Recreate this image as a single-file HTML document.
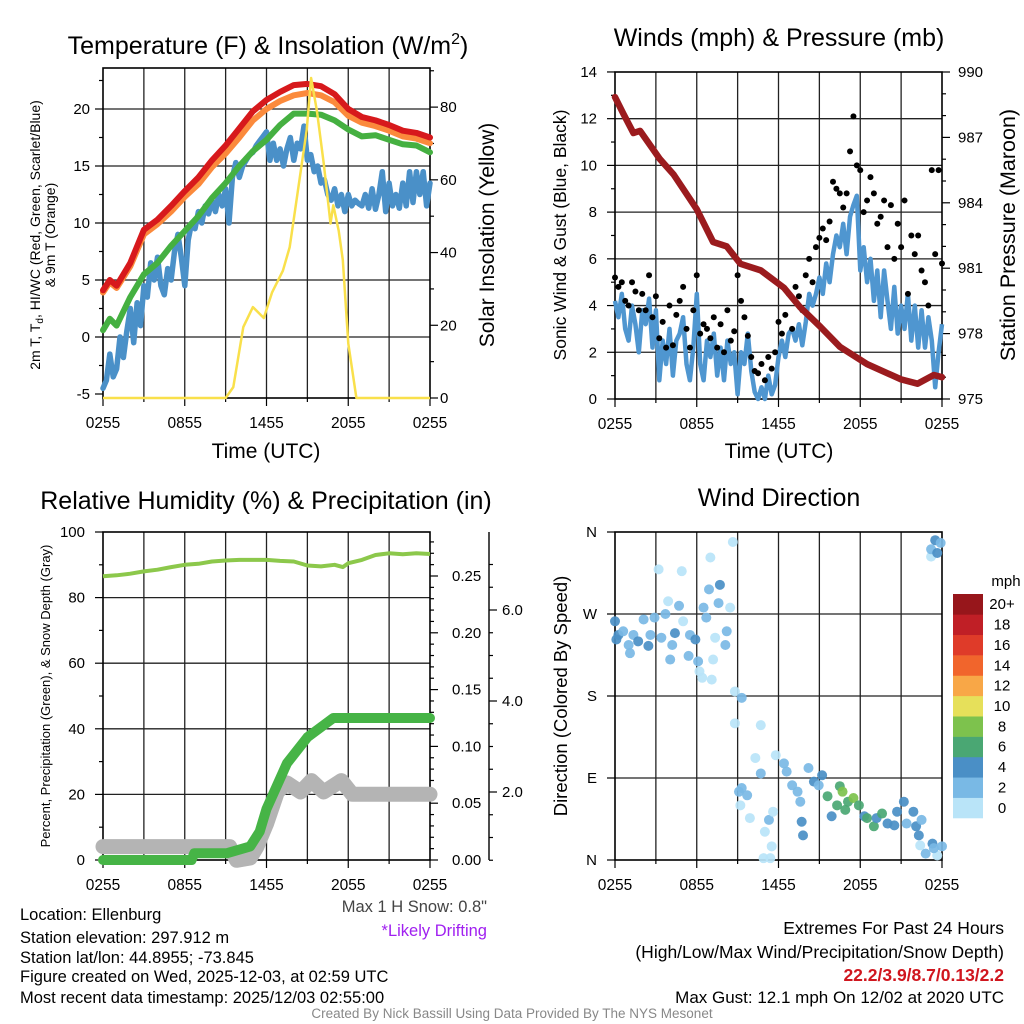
<!DOCTYPE html>
<html><head><meta charset="utf-8"><style>
html,body{margin:0;padding:0;background:#fff;}
svg{display:block;font-family:"Liberation Sans",Arial,sans-serif;}
</style></head><body>
<svg id="c" width="1024" height="1024" viewBox="0 0 1024 1024">
<rect width="1024" height="1024" fill="#fff"/>
<g id="g1"></g>
<g id="g2"></g>
<g id="g3"></g>
<g id="g4"></g>
<g id="txt" font-size="16.5" fill="#000">
<text x="268" y="54" font-size="25" text-anchor="middle">Temperature (F) &amp; Insolation (W/m<tspan font-size="16" dy="-10">2</tspan><tspan dy="10">)</tspan></text>
<text x="779" y="46" font-size="25" text-anchor="middle">Winds (mph) &amp; Pressure (mb)</text>
<text x="266" y="509" font-size="25" text-anchor="middle">Relative Humidity (%) &amp; Precipitation (in)</text>
<text x="779" y="506" font-size="25" text-anchor="middle">Wind Direction</text>
<text x="266" y="458" font-size="21" text-anchor="middle">Time (UTC)</text>
<text x="779" y="458" font-size="21" text-anchor="middle">Time (UTC)</text>
<text transform="translate(40,235) rotate(-90)" font-size="14" text-anchor="middle">2m T, T<tspan font-size="10" dy="3">d</tspan><tspan dy="-3">, HI/WC (Red, Green, Scarlet/Blue)</tspan></text>
<text transform="translate(55,235) rotate(-90)" font-size="14" text-anchor="middle">&amp; 9m T (Orange)</text>
<text transform="translate(494,235) rotate(-90)" font-size="21" text-anchor="middle">Solar Insolation (Yellow)</text>
<text transform="translate(566,235) rotate(-90)" font-size="17.5" text-anchor="middle">Sonic Wind &amp; Gust (Blue, Black)</text>
<text transform="translate(1015,235) rotate(-90)" font-size="21.5" text-anchor="middle">Station Pressure (Maroon)</text>
<text transform="translate(50,696) rotate(-90)" font-size="13" text-anchor="middle">Percent, Precipitation (Green), &amp; Snow Depth (Gray)</text>
<text transform="translate(567,696) rotate(-90)" font-size="18.5" text-anchor="middle">Direction (Colored By Speed)</text>
<text x="20" y="920">Location: Ellenburg</text>
<text x="20" y="943">Station elevation: 297.912 m</text>
<text x="20" y="963">Station lat/lon: 44.8955; -73.845</text>
<text x="20" y="982">Figure created on Wed, 2025-12-03, at 02:59 UTC</text>
<text x="20" y="1003">Most recent data timestamp: 2025/12/03 02:55:00</text>
<text x="487" y="912" text-anchor="end" fill="#444">Max 1 H Snow: 0.8"</text>
<text x="487" y="936" text-anchor="end" fill="#a020f0">*Likely Drifting</text>
<text x="1004" y="934" text-anchor="end" font-size="17.5">Extremes For Past 24 Hours</text>
<text x="1004" y="958" text-anchor="end" font-size="17.5">(High/Low/Max Wind/Precipitation/Snow Depth)</text>
<text x="1004" y="981" text-anchor="end" font-size="17.5" fill="#d0161e" font-weight="bold">22.2/3.9/8.7/0.13/2.2</text>
<text x="1004" y="1003" text-anchor="end" font-size="17">Max Gust: 12.1 mph On 12/02 at 2020 UTC</text>
<text x="512" y="1018" text-anchor="middle" font-size="13.5" fill="#888">Created By Nick Bassill Using Data Provided By The NYS Mesonet</text>
</g>
</svg>
<script>
// ---- data ----
const tempHours=[0,0.5,1,2,3,4,5,6,7,8,9,10,11,12,13,14,15,16,17,18,19,20,21,22,23,24];
const tempRed=[4.1,5.0,4.5,6.5,9.4,10.3,11.5,12.8,14,15.5,16.8,18.3,19.8,20.8,21.5,22.1,22.2,22,21.3,20,19.3,19,18.6,18.1,17.9,17.5];
const tempOrange=[3.9,4.8,4.3,6.2,9.0,9.9,11.0,12.3,13.4,14.9,16.1,17.5,19.0,20.0,20.7,21.2,21.4,21.2,20.6,19.4,18.8,18.5,18.1,17.6,17.4,17.0];
const tempGreen=[0.6,1.6,1.0,3.5,5.5,6.5,8.0,9.3,10.6,12.2,13.5,15.0,16.3,17.3,18.6,19.6,19.6,19.5,19.0,18.2,17.6,17.7,17.3,16.9,16.8,16.2];
const blueTemp=[-4.5,-3.8,-1.5,-3.5,-2.8,0,-1.8,0.5,2.5,-0.5,3,1,4.5,3.5,6.5,5,7,4.5,3.7,6,5,7.5,9,7,4.5,8.5,10,9.5,11,10,11.5,10.8,12,11,12.5,11.5,13,10,14,15.3,14,15,15.5,16,16.2,16.8,17.2,17.6,18,15.5,17,15.5,16.5,15,16.5,17.5,15.5,17,16.5,18.5,15.5,16,14.5,15,13.5,13.8,12.5,12,13,11.5,12.5,11,12.5,11.5,12,11.7,11.5,12.5,11.3,13,11.2,12.5,14.5,11,13.5,11.5,12.5,11.3,13.5,11.5,14.5,11.8,14.5,12.5,14.5,11.5,13.5];
const solarHours=[0,9.0,9.56,10.3,11.0,11.8,12.4,13.2,13.7,14.1,14.6,14.95,15.27,15.7,16.2,16.7,16.9,17.3,17.6,18.0,18.6,24];
const solarVals=[0,0,3,19.5,25,22,29,35,41.5,51.7,64.6,73.7,88,79,64.6,48,53,46,38,15,0,0];
const windBlue=[4.2,3.5,4.5,3,2.5,4,3.2,2,3.8,3.2,4.3,2.2,3.8,0.8,2.5,1.5,3,1,2.5,2.8,3.5,1.5,0.8,2.2,4.5,1.5,0.8,2.5,1.8,2.8,1,2.2,0.8,2.5,1.5,2,0.2,2,1.5,2.8,1.2,0.3,0,0.5,0,1,0.2,0.6,1.8,2.5,1.8,2.8,3,2.5,3.2,2.3,3.3,4.5,4,4.5,5.2,4.5,5.8,5,6.2,7,6.5,7.5,6.2,7.8,8.3,8.7,5.5,6.5,5,6,4.2,5.5,3.5,5.5,4.2,3,4.8,2.8,4,3,4.5,2.5,4,2.2,3.8,2.2,3.5,2.5,0.5,2,3.2];
const windGust=[5.2,4.8,5,4.2,4,5,4.6,3.8,4.5,3.8,5.3,3.5,4.4,2.6,3.3,2.2,4,2.3,3.6,4.2,4.8,3,2.2,3.8,5.3,2.8,3.2,3,2.6,3.5,2.2,3.2,2,3.8,2.5,2.9,5.3,4.2,3.5,2.7,1.8,1.2,1.1,1.5,0.8,1.8,1.3,2,3.3,2.8,3.6,4.5,3,4.8,4.4,3.8,5.3,6,5,6.5,6.9,7.3,6.8,7.6,9.3,9,8.8,8.2,8.8,10.6,12.1,10,9.8,8,8.5,9.5,8.8,7.5,7.8,8.5,6.5,8.3,6,7.5,6.5,8.5,4.5,7,6.2,7,5.5,5,4,9.8,6.2,9.8,5.8];
const presHours=[0,0.6,1.35,1.84,3.3,4.3,6.0,7.2,8.2,9.2,10.7,12.4,13.6,15.1,16.5,18.5,21,22.2,23.4,24];
const presVals=[988.85,988.1,987.2,987.3,986,985.3,983.7,982.2,982,981.2,980.9,980.1,979.2,978.3,977.4,976.6,975.9,975.7,976.1,976];
const rhHours=[0,1,2,3,4,5,6,7,8,9,10,11,12,13,14,15,16,17,17.6,18,19,20,21,22,23,24];
const rhVals=[86.5,86.8,87.3,88,88.5,89.3,90,90.3,91,91.3,91.5,91.5,91.5,91.2,91,89.8,89.5,90,89.3,90.5,91.5,93,93.5,93.2,93.5,93.3];
const precipHours=[0,6.5,6.7,9.1,10.8,11.5,12,13.5,15,16.9,24];
const precipVals=[0,0,0.006,0.006,0.012,0.025,0.045,0.085,0.108,0.125,0.125];
const snowHours=[0,9.3,9.8,10.8,11.3,12,12.8,13.5,14.5,15.3,16.2,17.5,18.3,24];
const snowVals=[0.8,0.8,0.5,0.55,0.8,1.3,2.0,2.2,2.0,2.25,2.0,2.25,1.95,1.95];
const dirHours=[0,0.25,0.1,0.6,1,1.1,1.35,1.7,2.1,2.45,2.6,2.9,3.2,3.4,3.7,3.9,4.05,4.2,4.4,4.7,4.9,5,5.4,5.5,5.9,6.1,6.2,6.4,6.5,6.7,6.9,7,7.1,7.2,7.35,7.6,7.7,8.1,8.2,8.45,8.65,8.8,9.3,8.8,9.1,9.3,9.7,9.2,9.9,10.3,10.7,10.7,10.9,11,11.3,11.4,11.5,11.6,11.8,12.4,12.6,13,13.4,13.6,13.7,13.8,14.2,14.6,14.95,15.2,15.6,15.9,16.3,16.5,16.7,16.9,17.1,17.5,17.9,18.3,18.5,19,19.2,19.6,20,20.5,20.7,21.2,21.4,21.9,22.1,22.3,22.5,22.4,22.8,23.3,23.65,24,23.4,23.2,23.2,23.5,23.65,23.9];
const dirDeg=[262,247,242,251,236,227,247,240,264,235,247,266,319,244,270,284,220,236,249,279,317,262,224,247,242,218,207,200,277,266,297,332,198,220,244,282,302,236,251,277,349,185,178,150,75,79,71,60,46,112,95,148,2,31,44,2,15,53,115,106,97,82,75,64,42,27,101,86,82,93,70,48,60,81,75,55,64,68,60,48,46,37,46,51,40,38,53,64,40,53,37,27,44,16,7,18,5,15,13,333,341,351,337,348];
const dirSpeed=[5,5,5,3,3,3,3,5,3,5,3,3,1,3,3,1,3,3,5,3,1,1,3,3,5,3,1,1,3,3,3,1,1,1,1,3,5,3,3,1,1,1,3,1,3,3,3,1,1,1,3,1,1,1,3,1,1,1,1,3,3,3,3,3,5,5,3,5,3,5,6.5,5,6.5,6.5,8,6.5,6.5,8,6.5,5,6.5,6.5,5,6.5,5,5,5,5,3,5,5,5,3,1,3,5,1,3,3,1,3,5,5,3];
const speedLabels=["0","2","4","6","8","10","12","14","16","18","20+"];
const speedColors=["#b9e4f8","#79b9e5","#4a8fc6","#4aa773","#7dc24d","#e6e05a","#f8a747","#f1652c","#df3b29","#c01f26","#97161b"];
const t1Labels=["0255","0855","1455","2055","0255"];

// ---- helpers ----
const NS="http://www.w3.org/2000/svg";
function mk(parent,tag,attrs){const e=document.createElementNS(NS,tag);for(const k in attrs)e.setAttribute(k,attrs[k]);parent.appendChild(e);return e;}
function pathD(xs,ys){return xs.map((x,i)=>(i?"L":"M")+x.toFixed(1)+","+ys[i].toFixed(1)).join("");}
function stepHours(n){const a=[];for(let i=0;i<n;i++)a.push(i*24/(n-1));return a;}

function frame(g,x0,y0,x1,y1,hy,name){
  for(let i=1;i<8;i++){const x=x0+(x1-x0)*i/8;const l=mk(g,"line",{x1:x,y1:y0,x2:x,y2:y1,stroke:"#222","stroke-width":1.3});
    }
  hy.forEach(y=>{const l=mk(g,"line",{x1:x0,y1:y,x2:x1,y2:y,stroke:"#222","stroke-width":1.3});
    });
  const r=mk(g,"rect",{x:x0,y:y0,width:x1-x0,height:y1-y0,fill:"none",stroke:"#000","stroke-width":1.6});
  
  for(let i=0;i<=8;i++){const x=x0+(x1-x0)*i/8;mk(g,"line",{x1:x,y1:y1,x2:x,y2:y1+(i%2?4:8),stroke:"#000","stroke-width":1.2});}
  t1Labels.forEach((s,i)=>{const t=mk(g,"text",{x:x0+(x1-x0)*i/4,y:y1+30,"font-size":15.5,"text-anchor":"middle"});t.textContent=s;
    });
}
function ytick(g,x,y,label,side,len,lx){
  mk(g,"line",{x1:x,y1:y,x2:x+(side<0?-len:len),y2:y,stroke:"#000","stroke-width":1.2});
  if(label!==null){const t=mk(g,"text",{x:lx,y:y+5,"font-size":15,"text-anchor":side<0?"end":"start"});t.textContent=label;
    }
}

// ---- panel 1 ----
(function(){
  const g=document.getElementById("g1");
  const x=h=>103+h*327/24, yL=v=>337-v*11.4, yR=v=>398-v*3.636;
  frame(g,103,68,430,398,[20,15,10,5,0].map(yL),"temperature");
  for(let v=-5;v<=22.5;v+=2.5){ytick(g,103,yL(v),v%5===0?String(v):null,-1,v%5===0?8:4,90);}
  for(let v=0;v<=90;v+=10){ytick(g,430,yR(v),v%20===0?String(v):null,1,v%20===0?8:4,440);}
  const bh=stepHours(blueTemp.length);
  const s=[[tempHours,tempRed,"#d7191c","temp-2m-red"],[tempHours,tempOrange,"#fb8a3c","temp-9m-orange"],[tempHours,tempGreen,"#45b041","dewpoint-green"]];
  const pb=mk(g,"path",{d:pathD(bh.map(x),blueTemp.map(yL)),fill:"none",stroke:"#4a90c8","stroke-width":5.5,"stroke-linejoin":"round","stroke-linecap":"round"});
  
  s.slice().reverse().forEach(a=>{const p=mk(g,"path",{d:pathD(a[0].map(x),a[1].map(yL)),fill:"none",stroke:a[2],"stroke-width":6,"stroke-linejoin":"round","stroke-linecap":"round"});
    });
  const py=mk(g,"path",{d:pathD(solarHours.map(x),solarVals.map(yR)),fill:"none",stroke:"#f9e04b","stroke-width":2.5,"stroke-linejoin":"round"});
  
})();

// ---- panel 2 ----
(function(){
  const g=document.getElementById("g2");
  const x=h=>615+h*327/24, yW=v=>399-v*23.36, yP=p=>399-(p-975)*21.8;
  frame(g,615,72,942,399,[2,4,6,8,10,12].map(yW),"wind");
  for(let v=0;v<=14;v+=1){ytick(g,615,yW(v),v%2===0?String(v):null,-1,v%2===0?8:4,597);}
  for(let p=975;p<=990;p+=1){ytick(g,942,yP(p),(p-975)%3===0?String(p):null,1,(p-975)%3===0?8:4,958);}
  const wh=stepHours(windBlue.length);
  const pw=mk(g,"path",{d:pathD(wh.map(x),windBlue.map(yW)),fill:"none",stroke:"#4f96d0","stroke-width":4.5,"stroke-linejoin":"round"});
  
  const gh=stepHours(windGust.length);
  windGust.forEach((v,i)=>{const c=mk(g,"circle",{cx:x(gh[i]),cy:yW(v),r:3,fill:"#000"});
    });
  const pp=mk(g,"path",{d:pathD(presHours.map(x),presVals.map(yP)),fill:"none",stroke:"#9b1b1e","stroke-width":6.5,"stroke-linejoin":"round","stroke-linecap":"round"});
  
})();

// ---- panel 3 ----
(function(){
  const g=document.getElementById("g3");
  const x=h=>103+h*327/24, yRH=v=>860-v*3.28, yPr=v=>860-v*1136, ySn=v=>883-v*45.5;
  frame(g,103,532,430,860,[80,60,40,20].map(yRH),"humidity");
  for(let v=0;v<=100;v+=10){ytick(g,103,yRH(v),v%20===0?String(v):null,-1,v%20===0?8:4,85);}
  for(let i=0;i<=28;i++){const v=i/100;ytick(g,430,yPr(v),i%5===0?v.toFixed(2):null,1,i%5===0?8:4,452);}
  const ax=mk(g,"line",{x1:489,y1:532,x2:489,y2:860,stroke:"#000","stroke-width":1.4});
  
  for(let i=1;i<=14;i++){const v=i/2;if(ySn(v)<532)break;ytick(g,489,ySn(v),i%4===0?v.toFixed(1):null,1,i%4===0?8:4,502);}
  const ps=mk(g,"path",{d:pathD(snowHours.map(x),snowVals.map(ySn)),fill:"none",stroke:"#b4b4b4","stroke-width":15,"stroke-linejoin":"round","stroke-linecap":"round"});
  
  const pr=mk(g,"path",{d:pathD(precipHours.map(x),precipVals.map(yPr)),fill:"none",stroke:"#46b446","stroke-width":10,"stroke-linejoin":"round","stroke-linecap":"round"});
  
  const ph=mk(g,"path",{d:pathD(rhHours.map(x),rhVals.map(yRH)),fill:"none",stroke:"#8cc84b","stroke-width":4,"stroke-linejoin":"round"});
  
})();

// ---- panel 4 ----
(function(){
  const g=document.getElementById("g4");
  const x=h=>615+h*327/24, yD=d=>860-d*328/360;
  frame(g,615,532,942,860,[90,180,270].map(yD),"direction");
  ["N","E","S","W","N"].forEach((s,i)=>ytick(g,615,yD(i*90),s,-1,8,597));
  function col(s){return speedColors[Math.min(10,Math.floor(s/2))];}
  dirDeg.forEach((d,i)=>{const c=mk(g,"circle",{cx:x(dirHours[i]),cy:yD(d),r:5,fill:col(dirSpeed[i]),"fill-opacity":0.92});
    });
  const lg=mk(g,"g",{});
  const bw=(818-594)/11;
  speedColors.forEach((c,i)=>{const y=818-(i+1)*bw;const r=mk(lg,"rect",{x:953,y:y,width:30,height:bw+0.3,fill:c});
    
    const t=mk(lg,"text",{x:1002,y:y+bw/2+5,"font-size":15,"text-anchor":"middle"});t.textContent=speedLabels[i];
    });
  const m=mk(lg,"text",{x:1006,y:586,"font-size":15,"text-anchor":"middle"});m.textContent="mph";
  
})();
</script>
</body></html>
